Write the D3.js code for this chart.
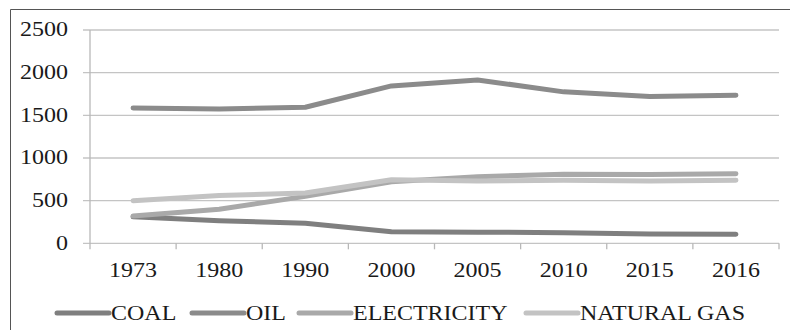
<!DOCTYPE html>
<html>
<head>
<meta charset="utf-8">
<script src="https://cdn.jsdelivr.net/npm/d3@7"></script>
<style>
  body { margin: 0; background: #fff; }
  text { font-family: "Liberation Serif", "Times New Roman", serif; fill: #1a1a1a; }
</style>
</head>
<body>
<div id="chart"></div>
<script>
// data
const years = ['1973', '1980', '1990', '2000', '2005', '2010', '2015', '2016'];
const coal = [310, 265, 235, 135, 130, 125, 110, 105];
const oil = [1585, 1575, 1595, 1845, 1915, 1775, 1720, 1735];
const electricity = [320, 400, 550, 720, 780, 810, 805, 815];
const naturalGas = [500, 560, 590, 745, 730, 740, 730, 740];
const yTicks = [0, 500, 1000, 1500, 2000, 2500];

const series = [
  { name: 'COAL', values: coal, color: '#7f7f7f' },
  { name: 'OIL', values: oil, color: '#8b8b8b' },
  { name: 'ELECTRICITY', values: electricity, color: '#a9a9a9' },
  { name: 'NATURAL GAS', values: naturalGas, color: '#c3c3c3' }
];

const W = 790, H = 330;
const plotLeft = 90, plotRight = 779, plotTop = 30, plotBottom = 243.3;
const stretch = 1.2; // text in the source is slightly widened

const svg = d3.select('#chart').append('svg')
  .attr('width', W).attr('height', H);

// outer frame (only left and top edges visible)
svg.append('path')
  .attr('d', `M10.5,${H} V9.5 H${W}`)
  .attr('fill', 'none')
  .attr('stroke', '#555')
  .attr('stroke-width', 1);

const x = d3.scaleBand().domain(years).range([plotLeft, plotRight]).padding(0);
const y = d3.scaleLinear().domain([0, 2500]).range([plotBottom, plotTop]);

// gridlines
svg.append('g')
  .selectAll('line')
  .data(yTicks)
  .join('line')
  .attr('x1', 83).attr('x2', plotRight)
  .attr('y1', d => y(d)).attr('y2', d => y(d))
  .attr('stroke', '#c4c4c4')
  .attr('stroke-width', 1.3);

// y axis line
svg.append('line')
  .attr('x1', plotLeft).attr('x2', plotLeft)
  .attr('y1', y(2500)).attr('y2', y(0) + 6)
  .attr('stroke', '#b8b8b8')
  .attr('stroke-width', 1.3);

// y tick labels
svg.append('g')
  .selectAll('text')
  .data(yTicks)
  .join('text')
  .attr('transform', d => `translate(68,${y(d)}) scale(${stretch},1)`)
  .attr('dy', '0.32em')
  .attr('text-anchor', 'end')
  .style('font-size', '20px')
  .text(d => d);

// x ticks at band edges
const edges = years.map(d => x(d)).concat([plotRight]);
svg.append('g')
  .selectAll('line')
  .data(edges.slice(1))
  .join('line')
  .attr('x1', d => d).attr('x2', d => d)
  .attr('y1', y(0)).attr('y2', y(0) + 6)
  .attr('stroke', '#b8b8b8')
  .attr('stroke-width', 1.3);

// x labels
svg.append('g')
  .selectAll('text')
  .data(years)
  .join('text')
  .attr('transform', d => `translate(${x(d) + x.bandwidth() / 2},${y(0) + 34}) scale(${stretch},1)`)
  .attr('text-anchor', 'middle')
  .style('font-size', '20px')
  .text(d => d);

// lines
const line = d3.line()
  .x((d, i) => x(years[i]) + x.bandwidth() / 2)
  .y(d => y(d));

svg.append('g')
  .selectAll('path')
  .data(series)
  .join('path')
  .attr('d', d => line(d.values))
  .attr('fill', 'none')
  .attr('stroke', d => d.color)
  .attr('stroke-width', 5)
  .attr('stroke-linecap', 'round')
  .attr('stroke-linejoin', 'round');

// legend
const legendX = [57, 192, 299, 526];
const swatch = 52;
const lg = svg.append('g')
  .selectAll('g')
  .data(series)
  .join('g')
  .attr('transform', (d, i) => `translate(${legendX[i]},313)`);

lg.append('line')
  .attr('x1', 0).attr('x2', swatch)
  .attr('stroke', d => d.color)
  .attr('stroke-width', 5)
  .attr('stroke-linecap', 'round');

lg.append('text')
  .attr('transform', `translate(${swatch + 2},0) scale(${stretch},1)`)
  .attr('dy', '0.35em')
  .style('font-size', '20px')
  .text(d => d.name);
</script>
</body>
</html>
